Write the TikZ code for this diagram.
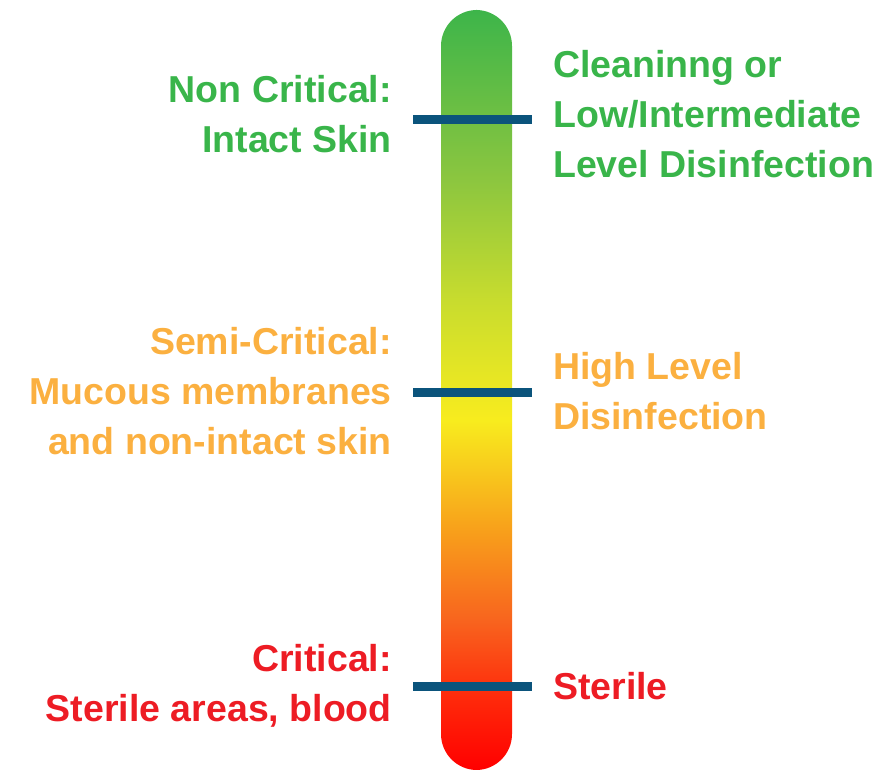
\documentclass[tikz,border=0pt]{standalone}
\usepackage{fontspec}
\setmainfont{Liberation Sans}
\usetikzlibrary{positioning}

\definecolor{lowgreen}{RGB}{57,181,74}
\definecolor{midorange}{RGB}{251,176,64}
\definecolor{highred}{RGB}{237,28,36}
\definecolor{tickblue}{RGB}{11,84,124}

\pgfdeclareverticalshading{riskbar}{100bp}{
  color(0bp)=(red);
  color(25bp)=(red);
  color(29.6bp)=(rgb,255:red,255;green,40;blue,10);
  color(34.85bp)=(rgb,255:red,248;green,100;blue,30);
  color(40.8bp)=(rgb,255:red,248;green,160;blue,27);
  color(48bp)=(rgb,255:red,248;green,236;blue,30);
  color(55.9bp)=(rgb,255:red,200;green,220;blue,46);
  color(63.8bp)=(rgb,255:red,140;green,198;blue,63);
  color(75bp)=(rgb,255:red,61;green,181;blue,74);
  color(100bp)=(rgb,255:red,61;green,181;blue,74)}

\begin{document}
\begin{tikzpicture}[
  x=1pt, y=-1pt,
  lbl/.style={inner sep=0pt, font=\bfseries\fontsize{37.5}{50}\selectfont},
  leftlbl/.style={lbl, anchor=east, align=right},
  rightlbl/.style={lbl, anchor=west, align=left},
  tick/.style={draw=tickblue, line width=9pt}
]
  \useasboundingbox (0,0) rectangle (884,770);

  % the bar
  \path[shading=riskbar, rounded corners=36pt] (441,10) rectangle (512,770);

  % level marks
  \coordinate (lowL) at (413,120);   \coordinate (lowR) at (532,120);
  \coordinate (midL) at (413,392);   \coordinate (midR) at (532,392);
  \coordinate (highL) at (413,686);  \coordinate (highR) at (532,686);
  \draw[tick] (lowL) -- (lowR);
  \draw[tick] (midL) -- (midR);
  \draw[tick] (highL) -- (highR);

  % categories
  \node[leftlbl, text=lowgreen] (noncrit) at (392,114) {Non Critical:\\Intact Skin};
  \node[leftlbl, text=midorange] (semicrit) at (392,391) {Semi-Critical:\\Mucous membranes\\and non-intact skin};
  \node[leftlbl, text=highred] (crit) at (392,686) {Critical:\\Sterile areas, blood};

  % processing
  \node[rightlbl, text=lowgreen] (lowdis) at (553,114) {Cleaninng or\\Low/Intermediate\\Level Disinfection};
  \node[rightlbl, text=midorange] (highdis) at (553,391) {High Level\\Disinfection};
  \node[rightlbl, text=highred] (sterile) at (553,686) {Sterile};
\end{tikzpicture}
\end{document}
